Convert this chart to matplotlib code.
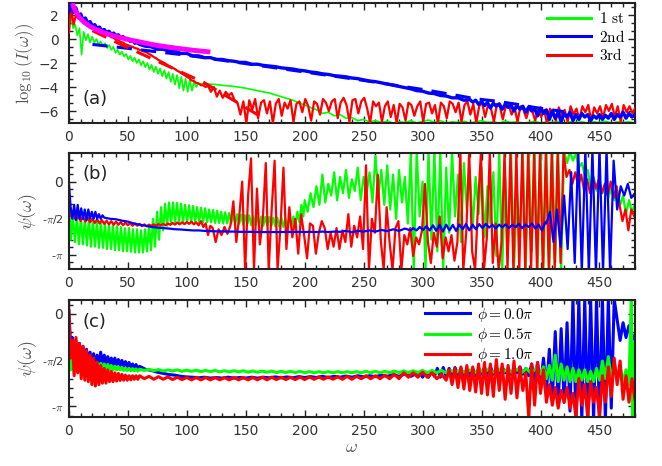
import matplotlib

matplotlib.use("Agg")
import matplotlib.pyplot as plt
import numpy as np
from matplotlib.ticker import AutoMinorLocator, FixedLocator, MultipleLocator

plt.rcParams["mathtext.fontset"] = "cm"
plt.rcParams["font.family"] = "DejaVu Sans"

PI = np.pi

# ---------------------------------------------------------------- panel (a)
# log10 spectrum of the three harmonics; each series is stored as
# segments on a uniform omega grid: (start, step, values)
a_first_s1 = [1.3, 1.8, 0.9, 1.2, 0.3, 0.9, -1.3, 0.6, -0.1, 0.4, -0.3, 0.2, -0.3, 0.0,
              -0.45, -0.2, -0.6, -0.35, -0.75, -0.5, -0.9, -0.65, -1.15, -0.9, -1.3, -1.05,
              -1.45, -1.25, -1.7, -1.4, -1.85, -1.55, -2.0, -1.7, -2.2, -1.85, -2.35, -2.0,
              -2.55, -2.15, -2.75, -2.3, -2.9, -2.45, -3.1, -2.6, -3.3, -2.75, -3.55, -2.9,
              -3.8, -3.0, -4.1, -3.15, -4.3, -3.3, -4.4, -3.4, -4.3, -3.55, -4.0, -3.7]
a_first_s2 = [-3.74, -3.76, -3.8, -3.85, -3.9, -3.95, -4.02, -4.1, -4.2, -4.3, -4.4, -4.5,
              -4.65, -4.8, -4.95, -5.1, -5.3, -5.5, -5.7, -5.9, -6.2, -6.1, -6.4, -6.3, -6.6,
              -6.55, -6.8, -6.7, -6.9, -6.8, -6.95, -6.85, -7.0, -6.9, -6.95, -6.8, -7.0,
              -6.85, -6.75, -6.95, -6.8, -7.0, -6.9, -6.95, -6.85, -7.0, -6.9, -6.8, -6.95,
              -6.9, -7.0, -6.85, -6.95, -6.9, -7.0, -6.95, -6.85, -7.0, -6.9, -6.95, -6.85,
              -7.0, -6.9, -6.95, -6.9, -7.0, -6.9, -6.95, -6.85, -7.0, -6.9, -6.95, -6.9, -7.0]
a_first_segments = [(0.0, 1.8, a_first_s1), (115.0, 5.0, a_first_s2)]

a_second_s1 = [2.3, 2.9, 2.2, 2.6, 1.9, 2.1, 1.6, 1.75, 1.35, 1.45, 1.1, 1.2, 0.9, 1.0,
               0.7, 0.8, 0.55, 0.65, 0.4, 0.5, 0.3, 0.35, 0.1, 0.2, -0.05, 0.05, -0.2,
               -0.1, -0.35, -0.3]
a_second_s2 = [-0.45, -0.6, -0.65, -0.85, -0.85, -1.0, -1.0, -1.2, -1.2, -1.4, -1.4, -1.55,
               -1.55, -1.7, -1.7, -1.8, -1.85, -1.95, -1.95, -2.1, -2.1, -2.2, -2.25, -2.3,
               -2.4, -2.45, -2.5, -2.6, -2.65, -2.75, -2.8, -2.9, -2.95, -3.05, -3.1, -3.15,
               -3.25, -3.3, -3.4, -3.5, -3.55, -3.65, -3.75, -3.85, -3.95, -4.05, -4.15,
               -4.3, -4.35, -4.5, -4.55, -4.7, -4.75, -4.9, -4.9, -5.1, -5.05]
a_second_s3 = [-5.25, -5.1, -5.45, -5.2, -5.55, -5.3, -5.75, -5.35, -5.6, -5.4, -5.85, -5.45,
               -5.7, -5.5, -6.0, -5.55, -5.85, -5.6, -6.1, -5.65, -6.0, -5.8, -6.4, -5.75,
               -6.2, -5.9, -6.7, -6.0, -6.6, -6.1, -6.9, -6.2, -6.5, -6.1, -6.8, -6.3, -6.7,
               -6.2, -6.5, -6.3, -6.8, -6.4, -6.6, -6.3, -6.7, -6.35, -6.6, -6.2, -6.7, -6.3,
               -6.5, -6.1, -6.6, -6.2, -6.5, -6.3]
a_second_segments = [(0.0, 2.0, a_second_s1), (60.0, 5.0, a_second_s2),
                     (342.5, 2.5, a_second_s3)]

a_third_s1 = [0.5, 2.6, 1.2, 2.0, 1.7, 1.8, 1.4, 1.5, 1.15, 1.2, 0.95, 0.95, 0.75, 0.75,
              0.55, 0.45, 0.35, 0.3, 0.15, 0.1, -0.05, -0.1, -0.25, -0.3, -0.45, -0.5, -0.6,
              -0.65, -0.75, -0.8, -0.9, -0.95, -1.05, -1.1, -1.25, -1.35, -1.5, -1.6, -1.75,
              -1.85, -1.95, -2.05, -2.2, -2.3, -2.4, -2.5, -2.65, -2.75, -2.9, -3.0, -3.15,
              -3.25, -3.45, -3.5, -3.65, -3.7, -3.85, -3.85, -4.0]
a_third_s2 = [-3.9, -4.4, -4.0, -4.8, -4.3, -4.9, -4.4, -4.7, -4.5, -5.1,
              -5.3, -6.3, -5.2, -7.0, -5.1, -5.9, -5.0, -6.6, -5.3, -5.1, -6.2, -5.2, -7.0,
              -5.4, -5.0, -6.4, -5.3, -5.8, -5.1, -6.9, -5.4, -5.2, -6.1, -5.0, -5.6, -6.8,
              -5.2, -5.4, -6.3, -5.0, -5.3, -6.0, -5.2, -5.0, -6.6, -5.3, -4.9, -5.5, -6.9,
              -5.1, -5.0, -6.2, -5.2, -4.9, -5.8, -7.0, -5.2, -5.6, -5.3, -6.9, -5.6, -5.2,
              -6.5, -5.5, -7.0, -5.4, -5.7, -6.8, -5.3, -5.5, -6.4, -5.6, -5.2, -6.9, -5.4,
              -5.3, -6.2, -5.5, -7.0, -5.3, -5.6, -6.6, -5.2, -5.4, -6.1, -5.3, -6.9, -5.5,
              -5.2, -6.3, -5.4, -7.0, -5.6, -5.3, -6.5, -5.5, -5.8, -6.9, -5.4, -5.6, -6.7,
              -5.6, -5.5, -6.3, -5.7, -6.9, -5.6, -5.9, -6.6, -5.7, -6.0, -6.8, -5.8, -6.5,
              -5.9, -7.0, -5.8, -6.2, -6.8, -5.7, -6.4, -5.9, -6.9, -5.6, -6.3, -5.8, -6.7,
              -5.6, -6.1, -5.5, -6.8, -5.7, -6.2, -5.6, -6.6, -5.5, -6.0, -5.4, -6.5, -5.6,
              -6.9, -5.5, -6.1, -5.6, -6.2, -5.7]
a_third_segments = [(0.0, 2.0, a_third_s1), (118.0, 2.5, a_third_s2)]

# straight-line guides and the reference power law
a_second_fit_w = [20, 45, 65, 100, 150, 200, 250, 300, 325, 345, 362, 380, 395, 420]
a_second_fit = [-0.45, -0.72, -0.95, -1.35, -2.05, -2.75, -3.45, -4.2, -4.62, -4.98,
                -5.17, -5.44, -5.7, -6.05]
a_third_fit_w = [20, 43, 115, 165]
a_third_fit = [0.7, -0.4, -3.65, -6.6]
a_ref_w = [3, 4, 6, 9, 13, 18, 23, 29, 36, 43, 52, 63, 73, 83, 94, 105, 120]
a_ref = [3.0, 2.7, 2.25, 1.8, 1.4, 1.05, 0.8, 0.55, 0.33, 0.14, -0.08, -0.3, -0.5, -0.65,
         -0.8, -0.93, -1.08]

# ---------------------------------------------------------------- panel (b)
b_first_s1 = [-0.7, -2.5, -1.5, -2.6, -1.5, -2.7, -1.55, -2.7, -1.6, -2.75, -1.6, -2.8,
              -1.65, -2.8, -1.7, -2.85, -1.72, -2.85, -1.8, -2.9, -1.82, -2.9, -1.88, -2.95,
              -1.92, -2.95, -1.95, -3.0, -2.0, -3.0, -2.0, -3.02, -2.05, -3.05, -2.05, -3.05,
              -2.1, -3.05, -2.05, -3.0, -1.9, -2.95, -1.6, -2.8, -1.3, -2.5, -1.1, -2.1,
              -0.95, -1.9, -0.9, -1.8, -0.9, -1.75, -0.92, -1.75, -0.95, -1.75, -1.0, -1.75,
              -1.02, -1.75, -1.05, -1.75, -1.1, -1.75, -1.12, -1.75, -1.15, -1.75, -1.2,
              -1.75, -1.22, -1.78, -1.25, -1.78, -1.3, -1.8, -1.32, -1.8, -1.35, -1.8, -1.38,
              -1.82, -1.4, -1.82, -1.42, -1.85, -1.45, -1.85, -1.45, -1.88, -1.48, -1.88,
              -1.5, -1.9, -1.5, -1.9, -1.52, -1.9, -1.52, -1.92, -1.55, -1.92, -1.55, -1.95,
              -1.55, -1.95, -1.58, -1.95, -1.55, -1.95, -1.5, -1.9, -1.3, -1.75, -1.0, -1.5]
b_first_s2 = [-0.8, -1.3, -0.5, -1.1, -0.2, -1.0, 0.3, -0.9, -0.1, -0.6, 0.4, -0.8, 0.2,
              -0.5, 0.5, -0.7, 0.1, -0.4, 0.6, -0.8, 0.2, -0.5, 0.4, -0.9, 1.1, -0.6, 0.5,
              -1.0, 0.7, -1.2, 0.3, -1.6, 0.5, -0.9, 0.2, -1.8, 1.3, -3.8, 1.3, -1.5, 0.0,
              -3.8, 1.3, -2.5, 1.3, -3.0, 1.3, -3.8, 0.6, -2.2, 1.3, -1.5, 0.3, -2.6, 0.8,
              -1.2, 0.5, -2.0, 0.2, -1.4, 0.6, -2.4, -0.2, -1.8, 0.4, -3.2, 1.3, -3.8, 0.2,
              -2.9, 1.3, -3.8, -0.5, -2.6, 1.3, -3.8, 1.3, -3.0, 1.3, -3.8, 1.3, -3.8, 1.3,
              -3.8, 1.3, -3.5, 1.3, -3.8, 1.3, 0.8, 1.3, 0.9, 1.2, 0.6, 0.8, 0.3, 0.5, -0.2,
              0.2, -0.4, 0.0, -0.5, -0.1, -0.7, -0.3, -0.8, -0.4, -1.0, -0.6, -1.4, -0.8,
              -1.3, -1.0]
b_first_segments = [(0.0, 1.7, b_first_s1), (200.0, 2.5, b_first_s2)]

b_second_s1 = [0.0, -1.1, -1.6, -1.0, -1.65, -1.0, -1.6, -1.15, -1.6, -1.2, -1.65, -1.2,
               -1.6, -1.3, -1.6, -1.3, -1.6, -1.4, -1.6, -1.45]
b_second_s2 = [-1.55, -1.6, -1.62, -1.68, -1.72, -1.8, -1.85, -1.9, -1.95, -1.98, -2.0,
               -2.02, -2.05, -2.06, -2.08, -2.1, -2.1, -2.12, -2.13, -2.14, -2.14, -2.15,
               -2.15, -2.16, -2.16, -2.16, -2.17, -2.17, -2.17, -2.17, -2.17, -2.16, -2.17,
               -2.16, -2.17, -2.16, -2.17, -2.15, -2.17, -2.15, -2.16, -2.12, -2.18, -2.12,
               -2.15, -2.1, -2.15, -2.08, -2.13, -2.05, -2.12, -2.02, -2.1]
b_second_s3 = [-2.0, -2.1, -1.95, -2.08, -1.92, -2.1, -1.88, -2.12, -1.86, -2.15, -1.85,
               -2.1, -1.86, -2.12, -1.85, -2.05, -1.82, -2.1, -1.85, -2.05, -1.83, -2.0,
               -1.82, -1.98, -1.85, -2.02, -1.85, -1.97, -1.84, -2.0, -1.86, -1.96, -1.82,
               -2.0, -1.85, -1.95, -1.8, -2.02, -1.85, -2.1, -1.75]
b_second_s4 = [-1.8, -1.3, -2.6, -1.2, -2.8, -0.6, -2.9, 0.4, -3.5, 1.4, -3.9, 1.4, -3.9,
               1.4, -3.9, 1.4, -3.9, 1.4, -3.9, 0.9, -1.2, -0.2, -0.6, -0.1, -0.7, -0.5]
b_second_segments = [(0.0, 1.5, b_second_s1), (30.0, 5.0, b_second_s2),
                     (292.0, 2.8, b_second_s3), (405.0, 3.0, b_second_s4)]

b_third_s1 = [-0.7, -1.5, -1.3, -1.65, -1.45, -1.7, -1.5, -1.72, -1.55, -1.75, -1.6, -1.78,
              -1.62, -1.8, -1.66, -1.82, -1.68, -1.84, -1.7, -1.86, -1.72, -1.86, -1.74,
              -1.88, -1.76, -1.88, -1.78, -1.9, -1.8, -1.9, -1.82, -1.92, -1.84, -1.92,
              -1.85, -1.9, -1.84, -1.9, -1.83, -1.88, -1.82, -1.88, -1.8, -1.86, -1.78,
              -1.85, -1.76, -1.84, -1.75, -1.83, -1.74, -1.82, -1.72, -1.84, -1.75, -1.88,
              -1.7, -1.95, -1.8, -2.3, -1.9]
b_third_s2 = [-2.0, -2.6, -2.05, -2.3, -1.95, -2.25, -1.9, -0.85, -2.6, -1.5, 0.0, -3.8,
              -0.6, 1.0, -3.8, -0.3, -2.7, -1.6, 0.8, -3.8, -1.2, 0.9, -3.8, -1.9, 0.6, -2.9,
              -1.1, -2.4, -1.6, -3.1, -1.4, -2.3, -3.3, -1.8, -1.9, -3.1, -2.2, -1.7, -2.0,
              -2.9, -2.2, -2.8, -2.0, -2.9, -2.1, -2.6, -1.4, -2.8, -1.9, -2.4, -1.5, -2.9,
              0.7, -3.8, -1.6, -2.2, 0.3, -2.5, -3.8, -1.1, -2.6, -3.8, -2.0, -1.7, -3.8,
              -2.3, -2.7, -2.0, -3.2, -2.4, -2.7, -2.1, -0.1, -2.6, -3.5, -2.2, -2.8, -1.5,
              -3.3, -2.4, -3.0, -2.3, -3.4, -2.6, 1.3, -3.8, -2.2, 1.3, -3.0, -3.8, -1.0, 1.3,
              -3.8, -2.4, 1.3, -3.5, -1.8, -3.8, -2.6, 1.3, -3.8, 1.3, -3.8, 1.3, -3.8, 1.3,
              -3.8, 1.3, -3.8, 1.3, -3.8, 1.3, -3.8, 1.3, -3.8, 1.3, -3.8, 1.3, -3.5, 1.3,
              0.2, 0.5, -0.1, 0.4, -0.2, 0.3, -0.4, 0.1, -0.5, 0.2, -0.3, 0.1, -0.5, -0.1,
              -0.6, 0.0, -0.7, -0.2, -1.0, -1.7, -1.2, -2.1, -1.2, -1.5, -1.2]
b_third_segments = [(0.0, 2.0, b_third_s1), (122.0, 2.5, b_third_s2)]

# ---------------------------------------------------------------- panel (c)
c_phi0_s1 = [0.1, -1.1, -0.8, -1.8, -0.9, -1.85, -1.0, -1.9, -1.1, -1.85, -1.2, -1.85, -1.3,
             -1.9, -1.35, -1.85, -1.4, -1.8, -1.3, -1.8, -1.4, -1.75, -1.45, -1.75, -1.5,
             -1.75, -1.5, -1.72, -1.55, -1.75, -1.58, -1.78, -1.62, -1.8, -1.65, -1.82,
             -1.7, -1.85, -1.72, -1.88, -1.78]
c_phi0_s2 = [-1.88, -1.92, -1.98, -2.02, -2.06, -2.08, -2.12, -2.14, -2.15, -2.17, -2.15,
             -2.18, -2.16, -2.18, -2.15, -2.18, -2.16, -2.18, -2.15, -2.18, -2.15, -2.17,
             -2.14, -2.17, -2.14, -2.17, -2.13, -2.16, -2.13, -2.16, -2.12, -2.16, -2.12,
             -2.15, -2.11, -2.15, -2.1, -2.14, -2.1, -2.13, -2.08, -2.12, -2.06, -2.12,
             -2.04, -2.12, -2.02]
c_phi0_s3 = [-2.0, -2.15, -1.98, -2.15, -1.95, -2.12, -1.85, -2.15, -1.82, -2.12, -1.85,
             -2.15, -1.82, -2.1, -1.85, -2.12, -1.88, -2.1, -1.85, -2.1, -1.85, -2.05,
             -1.82, -2.1, -1.8, -2.05, -1.85, -2.05, -1.8, -2.0, -1.85, -2.05, -1.85, -2.0,
             -1.8, -2.05, -1.85, -2.1, -1.7, -2.3, -1.65, -2.4, -1.5, -2.6, -1.2, -2.9,
             -0.6, -3.1, -0.5, -3.0, -0.3, -3.3, 0.5, -3.6, 0.5, -3.6, 0.5, -3.6, 0.5, -3.6,
             0.5, -3.6, 0.5, -3.6, 0.5, -3.2, 0.5, -0.2, -0.9, -0.3, -0.8, -0.4, -0.9, -0.7]
c_phi0_segments = [(0.0, 1.5, c_phi0_s1), (65.0, 5.0, c_phi0_s2), (297.5, 2.5, c_phi0_s3)]

c_phi05_s1 = [-0.5, -1.9, -1.3, -2.0, -1.4, -1.95, -1.45, -1.95, -1.5, -1.95, -1.55, -1.95,
              -1.6, -1.9, -1.62, -1.9, -1.65, -1.9, -1.68, -1.88, -1.7, -1.88, -1.72, -1.88,
              -1.75, -1.9, -1.78, -1.9, -1.8, -1.9, -1.82, -1.92, -1.84, -1.92, -1.85,
              -1.93, -1.86, -1.93, -1.87, -1.94, -1.88]
c_phi05_s2 = [-1.92, -1.88, -1.93, -1.89, -1.94, -1.9, -1.94, -1.9, -1.95, -1.91, -1.95,
              -1.91, -1.96, -1.92, -1.96, -1.92, -1.97, -1.93, -1.97, -1.93, -1.97, -1.93,
              -1.98, -1.94, -1.98, -1.94, -1.98, -1.94, -1.99, -1.95, -1.99, -1.95, -1.99,
              -1.95, -2.0, -1.96, -2.0, -1.96, -2.0, -1.96, -2.0, -1.96, -2.0, -1.96, -2.0,
              -1.96, -2.0, -1.95, -2.0, -1.95, -2.0, -1.95, -2.0, -1.94, -2.0, -1.93, -2.0,
              -1.93, -1.99, -1.92, -2.0, -1.92, -2.0, -1.92, -2.0, -1.92, -2.0, -1.9, -2.0,
              -1.9, -2.0, -1.9, -1.98, -1.88, -1.98, -1.88, -1.98, -1.88, -2.0, -1.88, -2.0,
              -1.85, -2.02, -1.85, -2.05]
c_phi05_s3 = [-1.8, -2.2, -1.75, -2.25, -1.4, -2.3, -1.7, -2.25, -1.8, -2.3, -1.85, -2.3,
              -1.9, -2.25, -1.9, -2.3, -1.95, -2.3, -1.85, -2.25, -1.6, -2.2, -1.45, -2.25,
              -1.7, -2.2, -1.8, -2.3, -1.9, -2.4]
c_phi05_s4 = [0.6, -3.6, -1.0, -1.7]
c_phi05_segments = [(0.0, 1.5, c_phi05_s1), (64.0, 4.0, c_phi05_s2),
                    (402.5, 2.5, c_phi05_s3), (477.0, 1.0, c_phi05_s4)]

c_phi1_s1 = [0.15, -1.5, -0.9, -2.1, -0.8, -2.0, -1.0, -2.2, -1.1, -2.25, -1.25, -2.3, -1.4,
             -2.4, -1.5, -2.45, -1.65, -2.4, -1.75, -2.35, -1.85, -2.35, -1.9, -2.3, -1.95,
             -2.3, -2.0, -2.28, -2.02, -2.26, -2.05, -2.25, -2.08, -2.25, -2.1, -2.24,
             -2.1, -2.22, -2.1, -2.22, -2.1]
c_phi1_s2 = [-2.2, -2.12, -2.22, -2.13, -2.22, -2.14, -2.23, -2.15, -2.23, -2.16, -2.24,
             -2.16, -2.24, -2.16, -2.24, -2.16, -2.24, -2.16, -2.24, -2.16, -2.24, -2.16,
             -2.24, -2.16, -2.24, -2.15, -2.24, -2.15, -2.23, -2.15, -2.23, -2.15, -2.23,
             -2.14, -2.23, -2.14, -2.22, -2.14, -2.22, -2.14, -2.22, -2.13, -2.22, -2.12,
             -2.22, -2.12, -2.2, -2.1, -2.2, -2.1, -2.2, -2.08, -2.2, -2.05, -2.2, -2.0,
             -2.15, -2.0, -2.15, -1.98, -2.15, -2.0, -2.2, -2.05, -2.25]
c_phi1_s3 = [-1.9, -2.4, -1.85, -2.5, -1.8, -2.55, -1.75, -2.6, -1.8, -2.65, -1.7, -2.7,
             -1.65, -2.75, -1.7, -2.8, -1.55, -2.6, -1.7, -2.9, -1.75, -2.7, -1.6, -2.85,
             -1.8, -2.6, -2.0, -3.5, -1.7, -3.1, -1.65, -2.7, -1.9, -3.0, -2.4, -3.1, -2.5,
             -3.2, -2.6, -3.0, -2.5, -3.2, -2.7, -3.5, -2.2, -3.1, -2.4, -3.5, -2.3, -3.0,
             -2.5, -3.5, -2.1, -3.0, -1.8, -2.8, -1.5, -2.4, -1.6, -2.9, -2.1, -3.0, -2.2,
             -2.9]
c_phi1_segments = [(0.0, 1.5, c_phi1_s1), (64.0, 4.0, c_phi1_s2), (322.5, 2.5, c_phi1_s3)]

GREEN = "#00ff00"
BLUE = "#0000ff"
RED = "#ff0000"
MAGENTA = "#ff00ff"
TEXT = "#333333"


def build(segments):
    w_parts, v_parts = [], []
    for start, step, values in segments:
        w_parts.append(start + step * np.arange(len(values)))
        v_parts.append(np.asarray(values, dtype=float))
    return np.concatenate(w_parts), np.concatenate(v_parts)


def style_axes(ax, ypad):
    ax.set_xlim(0, 480)
    ax.xaxis.set_major_locator(MultipleLocator(50))
    ax.xaxis.set_minor_locator(MultipleLocator(10))
    ax.tick_params(which="both", direction="in", top=True, right=True,
                   colors="#222222", labelcolor=TEXT, width=1.0)
    ax.tick_params(which="major", length=5)
    ax.tick_params(which="minor", length=3)
    ax.tick_params(axis="x", labelsize=10, pad=5)
    ax.tick_params(axis="y", labelsize=10, pad=ypad)
    for spine in ax.spines.values():
        spine.set_linewidth(1.5)
        spine.set_color("#222222")


def phase_ticks(ax):
    ax.yaxis.set_major_locator(FixedLocator([-PI, -PI / 2, 0]))
    ax.yaxis.set_minor_locator(MultipleLocator(PI / 10))
    ax.set_yticklabels([r"-$\pi$", r"-$\pi$/2", "0"])
    for label in ax.get_yticklabels()[:2]:
        label.set_fontsize(8)


fig = plt.figure(figsize=(6.62, 4.66), dpi=100)
ax_a = fig.add_axes([0.104, 0.736, 0.855, 0.2575])
ax_b = fig.add_axes([0.104, 0.4227, 0.855, 0.249])
ax_c = fig.add_axes([0.104, 0.1052, 0.855, 0.2515])

# (a) harmonic spectra
w, v = build(a_first_segments)
ax_a.plot(w, v, color=GREEN, lw=1.2)
w, v = build(a_third_segments)
ax_a.plot(w, v, color=RED, lw=1.6, zorder=3)
ax_a.plot(a_second_fit_w, a_second_fit, color=BLUE, lw=2.2, ls=(0, (5, 3)), zorder=3)
ax_a.plot(a_third_fit_w, a_third_fit, color=RED, lw=2.2, ls=(0, (5, 3)), zorder=3)
w, v = build(a_second_segments)
ax_a.plot(w, v, color=BLUE, lw=2.4, zorder=4)
ax_a.plot(a_ref_w, a_ref, color=MAGENTA, lw=3.5, solid_capstyle="butt", zorder=5)
ax_a.set_ylim(-7, 3)
ax_a.yaxis.set_major_locator(MultipleLocator(2))
ax_a.yaxis.set_minor_locator(AutoMinorLocator(3))
style_axes(ax_a, ypad=7)
ax_a.set_ylabel(r"$\log_{10}(I(\omega))$", fontsize=12, color="#555555", labelpad=2)
ax_a.text(0.046, 0.2, "(a)", transform=ax_a.transAxes, fontsize=13,
          ha="center", va="center", color="#222222")
handles = [plt.Line2D([], [], color=GREEN, lw=2.2),
           plt.Line2D([], [], color=BLUE, lw=2.2),
           plt.Line2D([], [], color=RED, lw=2.2)]
ax_a.legend(handles, [r"$\mathrm{1\ st}$", r"$\mathrm{2nd}$", r"$\mathrm{3rd}$"],
            loc="upper left", bbox_to_anchor=(0.845, 0.93), frameon=False,
            fontsize=11, handlelength=2.9, handletextpad=0.5, labelspacing=0.15,
            borderpad=0, borderaxespad=0)

# (b) harmonic phases
w, v = build(b_first_segments)
ax_b.plot(w, v, color=GREEN, lw=1.6)
w, v = build(b_third_segments)
ax_b.plot(w, v, color=RED, lw=1.6)
w, v = build(b_second_segments)
ax_b.plot(w, v, color=BLUE, lw=1.6)
ax_b.set_ylim(-3.76, 1.23)
style_axes(ax_b, ypad=4)
phase_ticks(ax_b)
ax_b.set_ylabel(r"$\psi(\omega)$", fontsize=13, color="#555555", labelpad=2)
ax_b.text(0.046, 0.82, "(b)", transform=ax_b.transAxes, fontsize=13,
          ha="center", va="center", color="#222222")

# (c) phase for three carrier-envelope phases
w, v = build(c_phi0_segments)
ax_c.plot(w, v, color=BLUE, lw=2.2, label=r"$\phi=0.0\pi$")
w, v = build(c_phi05_segments)
ax_c.plot(w, v, color=GREEN, lw=2.2, label=r"$\phi=0.5\pi$")
w, v = build(c_phi1_segments)
ax_c.plot(w, v, color=RED, lw=2.2, label=r"$\phi=1.0\pi$")
ax_c.set_ylim(-3.5, 0.48)
style_axes(ax_c, ypad=4)
phase_ticks(ax_c)
ax_c.set_ylabel(r"$\psi(\omega)$", fontsize=13, color="#555555", labelpad=2)
ax_c.set_xlabel(r"$\omega$", fontsize=13, color="#555555", labelpad=0)
ax_c.text(0.046, 0.81, "(c)", transform=ax_c.transAxes, fontsize=13,
          ha="center", va="center", color="#222222")
ax_c.legend(loc="upper left", bbox_to_anchor=(0.63, 0.95), frameon=False,
            fontsize=11, handlelength=2.9, handletextpad=0.5, labelspacing=0.15,
            borderpad=0, borderaxespad=0)

fig.savefig("out.png", dpi=100)
